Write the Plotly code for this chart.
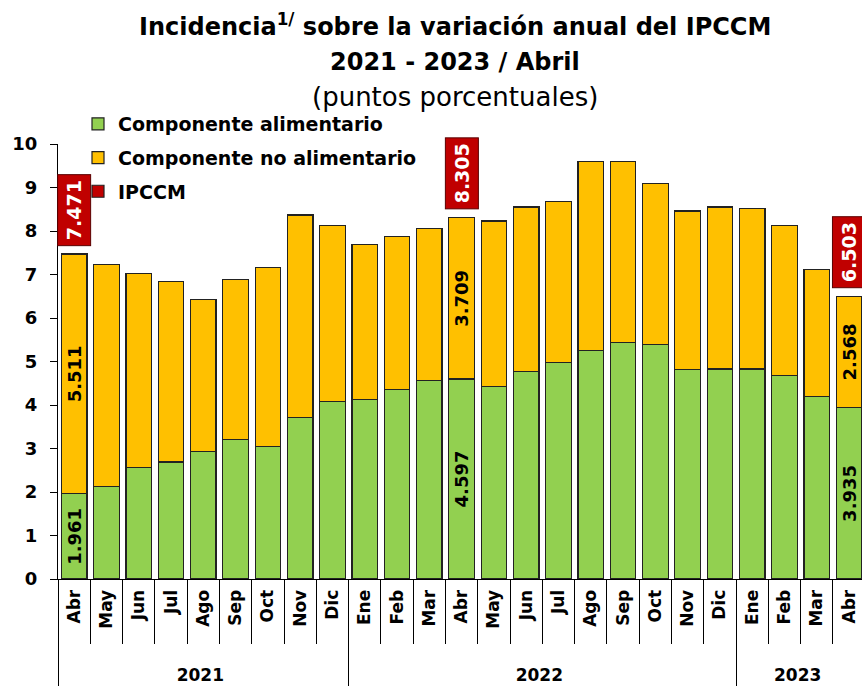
import plotly.graph_objects as go

ZW = "\u200b"
months_2021 = ["Abr", "May", "Jun", "Jul", "Ago", "Sep", "Oct", "Nov", "Dic"]
months_2022 = ["Ene", "Feb", "Mar", "Abr", "May", "Jun", "Jul", "Ago", "Sep", "Oct", "Nov", "Dic"]
months_2023 = ["Ene", "Feb", "Mar", "Abr"]
# zero-width suffixes keep repeated month names distinct so each year keeps its own order
months = months_2021 + [m + ZW for m in months_2022] + [m + ZW * 2 for m in months_2023]
year_names = ["2021", "2022", "2023"]
years = ["<br>" + year_names[0]] * 9 + ["<br>" + year_names[1]] * 12 + ["<br>" + year_names[2]] * 4

food = [1.961, 2.13, 2.56, 2.69, 2.94, 3.20, 3.05, 3.71, 4.08,
        4.12, 4.35, 4.56, 4.597, 4.43, 4.77, 4.98, 5.25, 5.43, 5.40, 4.82, 4.83,
        4.83, 4.67, 4.20, 3.935]
nonfood = [5.511, 5.10, 4.47, 4.14, 3.48, 3.69, 4.11, 4.66, 4.04,
           3.57, 3.52, 3.50, 3.709, 3.80, 3.78, 3.69, 4.35, 4.17, 3.69, 3.64, 3.72,
           3.68, 3.45, 2.92, 2.568]
ipccm = [7.471, 7.23, 7.03, 6.83, 6.42, 6.89, 7.16, 8.37, 8.12,
         7.69, 7.87, 8.06, 8.305, 8.23, 8.55, 8.67, 9.60, 9.60, 9.09, 8.46, 8.55,
         8.51, 8.12, 7.12, 6.503]
labelled = [0, 12, 24]  # April of each year

GREEN = "#92D050"
ORANGE = "#FFC000"
RED = "#C00000"
FONT = "DejaVu Sans"

food_text = [f"{v:.3f}" if i in labelled else "" for i, v in enumerate(food)]
nonfood_text = [f"{v:.3f}" if i in labelled else "" for i, v in enumerate(nonfood)]

fig = go.Figure()
fig.add_trace(go.Bar(
    x=[years, months], y=food, name="Componente alimentario",
    marker=dict(color=GREEN, line=dict(color="#222222", width=1.2)),
    text=food_text, textposition="inside", textangle=-90, insidetextanchor="middle",
    textfont=dict(family=FONT, size=18, color="black", weight="bold"),
    legendgroup="a", hoverinfo="skip"))
fig.add_trace(go.Bar(
    x=[years, months], y=nonfood, name="Componente no alimentario",
    marker=dict(color=ORANGE, line=dict(color="#222222", width=1.2)),
    text=nonfood_text, textposition="inside", textangle=-90, insidetextanchor="middle",
    textfont=dict(family=FONT, size=18, color="black", weight="bold"),
    legendgroup="b", hoverinfo="skip"))
fig.add_trace(go.Bar(
    x=[[None], [None]], y=[None], name="IPCCM",
    marker=dict(color=RED, line=dict(color="#222222", width=1.2)),
    legendgroup="c", showlegend=True))

H = 435.0
W = 804.0
def py(px):
    return 1 + (144 - px) / H

def pxx(px):
    return (px - 58) / W

for i in labelled:
    fig.add_annotation(
        x=i, y=ipccm[i], xref="x", yref="y", text=f"{ipccm[i]:.3f}",
        textangle=-90, showarrow=False, yanchor="bottom", xanchor="center", yshift=8,
        bgcolor=RED, bordercolor="#5a0000", borderwidth=1, borderpad=5,
        font=dict(family=FONT, size=19, color="white", weight="bold"))

titles = [
    ("Incidencia<sup>1/</sup> sobre la variación anual del IPCCM", 25, 24, "bold"),
    ("2021 - 2023 / Abril", 62, 24, "bold"),
    ("(puntos porcentuales)", 97, 26, "normal"),
]
for t, ypx, sz, wt in titles:
    fig.add_annotation(
        x=pxx(455), y=py(ypx), xref="paper", yref="paper", text=t, showarrow=False,
        xanchor="center", yanchor="middle",
        font=dict(family=FONT, size=sz, color="black", weight=wt))

fig.update_layout(
    width=862, height=687,
    margin=dict(l=58, r=0, t=144, b=108),
    paper_bgcolor="white", plot_bgcolor="white",
    barmode="stack", bargap=0.21,
    uniformtext=dict(minsize=18, mode="show"),
    showlegend=True,
    legend=dict(
        x=pxx(78), y=py(105), xanchor="left", yanchor="top",
        traceorder="grouped", tracegroupgap=6, bgcolor="rgba(0,0,0,0)",
        font=dict(family=FONT, size=19, color="black", weight="bold")),
    xaxis=dict(
        type="multicategory", range=[-0.5, 24.4], automargin=False,
        showline=True, linecolor="black", linewidth=1,
        ticks="outside", ticklen=64, tickcolor="black",
        tickangle=-90, showdividers=True, dividercolor="black", dividerwidth=1,
        ticklabelstandoff=3,
        tickfont=dict(family=FONT, size=17, color="black", weight="bold"),
        showgrid=False),
    yaxis=dict(
        range=[0, 10], dtick=1, showline=True, linecolor="black", linewidth=1,
        automargin=False,
        ticks="outside", ticklen=7, tickcolor="black", showgrid=False, zeroline=False,
        ticklabelstandoff=9,
        tickfont=dict(family=FONT, size=18, color="black", weight="bold")),
)

fig.write_html("out.html", config={"displayModeBar": False},
               post_script="document.body.style.margin='0';document.body.style.overflow='hidden';")
